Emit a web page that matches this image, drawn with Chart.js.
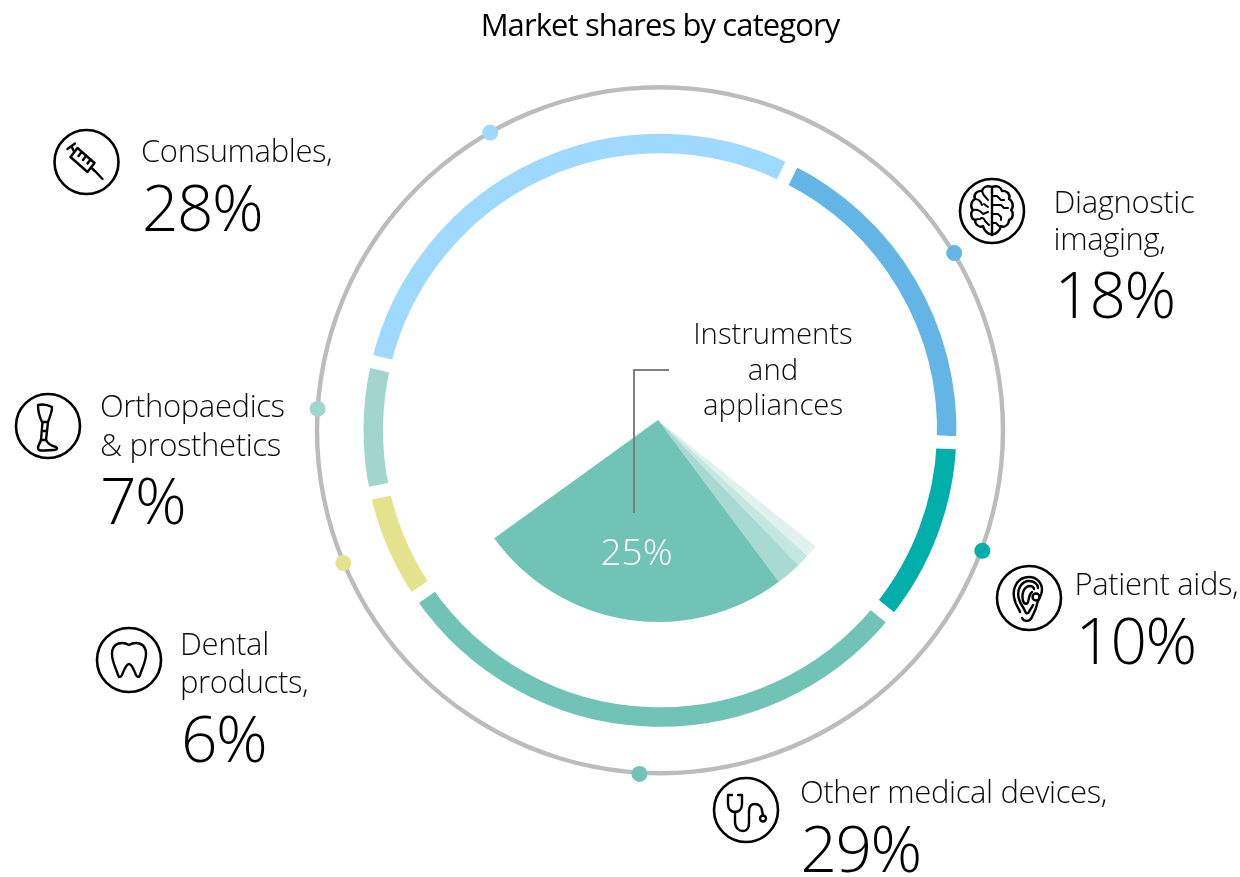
<!DOCTYPE html>
<html>
<head>
<meta charset="utf-8">
<script src="https://cdn.jsdelivr.net/npm/chart.js@4"></script>
<style>
html,body{margin:0;padding:0;background:#fff;width:1240px;height:877px;overflow:hidden}
canvas,svg{position:absolute}
svg text{font-family:"Open Sans",sans-serif;font-weight:300}
.ic{fill:none;stroke:#000;stroke-width:2.4;stroke-linejoin:round;stroke-linecap:round}
</style>
</head>
<body>
<canvas id="ring" width="720" height="720" style="left:300px;top:70px;width:720px;height:720px"></canvas>
<canvas id="pie" width="420" height="420" style="left:447.5px;top:210px;width:420px;height:420px"></canvas>
<svg id="ov" width="1240" height="877" viewBox="0 0 1240 877" style="left:0;top:0"></svg>
<script>
const chartTitle = "Market shares by category";
const categories = ["Diagnostic imaging","Patient aids","Other medical devices","Dental products","Orthopaedics & prosthetics","Consumables"];
const shares = [18,10,29,6,7,28];
const shareColors = ["#62B5E5","#00AFAA","#71C3B5","#E3E48D","#A0D6CD","#9FD9FF"];
const dotAngles = [58.8,110.4,183.5,247.4,273.7,330.3];

const breakdownLabels = ["Other devices a","Other devices b","Other devices c","Instruments and appliances","Remaining categories"];
const breakdownValues = [1,1,2,25,70];
const breakdownColors = ["#E0F2EE","#C5E7E1","#A8DAD2","#71C3B5","rgba(0,0,0,0)"];
const highlightLabel = ["Instruments","and","appliances"];

const labelLines = [["Diagnostic","imaging,"],["Patient aids,"],["Other medical devices,"],["Dental","products,"],["Orthopaedics","& prosthetics"],["Consumables,"]];
const labelLayout = [
 {x:1053.5,ys:[213,250],vx:1054.5,vy:318},
 {x:1074.5,ys:[595],vx:1075.5,vy:664},
 {x:800,ys:[803],vx:800.5,vy:872},
 {x:180,ys:[655,693],vx:181,vy:762},
 {x:100,ys:[417,456],vx:100,vy:524},
 {x:141,ys:[162],vx:142,vy:231}
];

const dotPlugin = {
  id:"dots",
  afterDatasetsDraw(chart){
    const a = chart.getDatasetMeta(0).data[0];
    const r = (a.innerRadius + a.outerRadius)/2 + 0.5;
    const c = chart.ctx;
    dotAngles.forEach((deg,i)=>{
      const t = (deg-90)*Math.PI/180;
      c.beginPath();
      c.arc(a.x + 0.4 + r*Math.cos(t), a.y + 0.8 + r*Math.sin(t), 8, 0, Math.PI*2);
      c.fillStyle = shareColors[i];
      c.fill();
    });
  }
};

new Chart(document.getElementById("ring"),{
  type:"doughnut",
  data:{labels:categories,datasets:[
    {data:[1],backgroundColor:["#BBBCBC"],borderWidth:0,weight:4.4},
    {data:[1],backgroundColor:["rgba(0,0,0,0)"],borderWidth:0,weight:37.8},
    {data:shares,backgroundColor:shareColors,borderColor:"#fff",borderWidth:13,rotation:26.3,weight:32.5}
  ]},
  options:{responsive:false,animation:false,radius:345.2,cutout:"78.36%",
    layout:{padding:{top:0.5}},
    plugins:{legend:{display:false},tooltip:{enabled:false},title:{display:false}}},
  plugins:[dotPlugin]
});

new Chart(document.getElementById("pie"),{
  type:"pie",
  data:{labels:breakdownLabels,datasets:[{data:breakdownValues,backgroundColor:breakdownColors,borderWidth:0,rotation:128.7}]},
  options:{responsive:false,animation:false,radius:202,layout:{padding:0},
    plugins:{legend:{display:false},tooltip:{enabled:false}}}
});

const NS="http://www.w3.org/2000/svg", ov=document.getElementById("ov");
function txt(s,x,y,size,fill,anchor,weight,ls){
  const t=document.createElementNS(NS,"text");
  t.setAttribute("x",x);t.setAttribute("y",y);t.setAttribute("font-size",size);t.setAttribute("fill",fill);
  if(anchor)t.setAttribute("text-anchor",anchor);
  if(weight)t.style.fontWeight=weight;
  if(ls)t.setAttribute("letter-spacing",ls);
  t.textContent=s;ov.appendChild(t);return t;
}
txt(chartTitle,660,36,31,"#000","middle",400,"-0.9");
labelLines.forEach((ls,i)=>{
  const p=labelLayout[i];
  ls.forEach((l,j)=>txt(l,p.x,p.ys[j],31,"#0d0d0d",null,null,"-0.37"));
  txt(shares[i]+"%",p.vx,p.vy,64,"#000",null,null,"-1.5");
});
[[773,344],[773,380],[773,415]].forEach((p,i)=>txt(highlightLabel[i],p[0],p[1],29.3,"#0d0d0d","middle"));
txt(breakdownValues[3]+"%",636.5,565,37,"#fff","middle");

function shape(html){const g=document.createElementNS(NS,"g");g.innerHTML=html;ov.appendChild(g);}
shape('<path d="M669,370 H634 V513" fill="none" stroke="#7f7f7f" stroke-width="2"/>');

const icons = [
 [992,211,`<path d="M0,-24 V24"/><path d="M0,-24 C-5,-26 -9,-24 -10,-20 C-15,-21 -19,-16 -17,-12 C-21,-10 -22,-4 -19,-1 C-22,2 -21,8 -17,9 C-17,14 -12,17 -9,15 C-8,20 -3,24 0,23"/><path d="M0,-24 C5,-26 9,-24 10,-20 C15,-21 19,-16 17,-12 C21,-10 22,-4 19,-1 C22,2 21,8 17,9 C17,14 12,17 9,15 C8,20 3,24 0,23"/><path d="M-10,-20 C-9,-15 -6,-14 -4,-11 M-17,-12 C-13,-12 -11,-9 -10,-6 M-19,-1 C-15,-2 -12,-1 -9,3 L-4,1 M-4,-4 L-8,-7 M-12,8 C-10,6 -8,7 -7,10 L-3,14 M-17,9 C-15,8 -14,8 -12,8" stroke-width="2"/><path d="M0,-15 H5 L9,-11 H12 M0,-6 H9 L12,-3 H16 M0,3 H6 L9,6 V9 M0,12 H4 L7,15" stroke-width="2"/>`],
 [1029,598,`<path d="M-14,3 C-18,-9 -12,-21 0,-21 C8,-21 13,-15 13,-8 C13,-2 9,1 8,6 C7,12 5,14 3,19 C1,24 -5,24 -7,20"/><path d="M-10,1 C-13,-9 -7,-17 0,-17 C5,-17 9,-14 9,-10"/><path d="M-6,3 C-8,-6 -4,-12 1,-12 C3,-12 5,-11 5,-9"/><path d="M-14,3 C-13,8 -10,10 -9,14 M-10,1 C-9,6 -6,8 -4,13 C-3,16 -1,16 0,14 C1,11 3,10 4,7 M-6,3 C-5,6 -2,7 -1,4 C0,1 0,-4 3,-6"/><circle cx="7" cy="-1" r="3.5"/>`],
 [746,810,`<path d="M-14,-15 H-18 V-6 C-18,-1 -15,2 -11,2 C-7,2 -4,-1 -4,-6 V-15 H-8"/><path d="M-11,2 V12 C-11,18 -7,21 -3,21 C1,21 3,18 3,13 V1 C3,-4 5,-6 9,-6 C13,-6 16,-3 16,1 L17,5"/><circle cx="17" cy="8.5" r="3"/>`],
 [129,660,`<path d="M0,-15 C-5,-18 -17,-19 -17,-6 C-17,2 -13,8 -11,15 C-10,18 -8,17 -7,15 C-5,10 -3,4 0,4 C3,4 5,10 7,15 C8,17 10,18 11,15 C13,8 17,2 17,-6 C17,-19 5,-18 0,-15 Z"/>`],
 [48,426,`<path d="M-10,-21 C-6,-22 0,-21 4,-19 C4,-14 2,-9 0,-4 H-6 C-9,-10 -10,-16 -10,-21 Z"/><path d="M-5.5,-4 L-7,14 M0,-4 L-2,14 M-6,5 H-1"/><path d="M-7,14 C-8,17 -10,19 -10,22 C-10,25 -7,24.5 -3,24.5 L6,24 C9,24 10,22 8,21 C4,20 0,18 -2,14 Z"/>`],
 [86.5,162,`<path d="M-9,-14 L8,1 L1,10 L-16,-5 Z"/><path d="M-5,-10 l-3,4 M-0.5,-6 l-3,4 M4,-2.5 l-3,4"/><path d="M-19,-13 L-11.5,-18.5 M-15,-15.5 L-12.5,-10.5"/><path d="M4.5,5.5 L8,9"/><path d="M7,7.5 L16,17"/>`]
];
icons.forEach(([x,y,body])=>shape(`<g transform="translate(${x},${y})" class="ic"><circle r="32" fill="#fff" stroke-width="2.6"/>${body}</g>`));
</script>
</body>
</html>
